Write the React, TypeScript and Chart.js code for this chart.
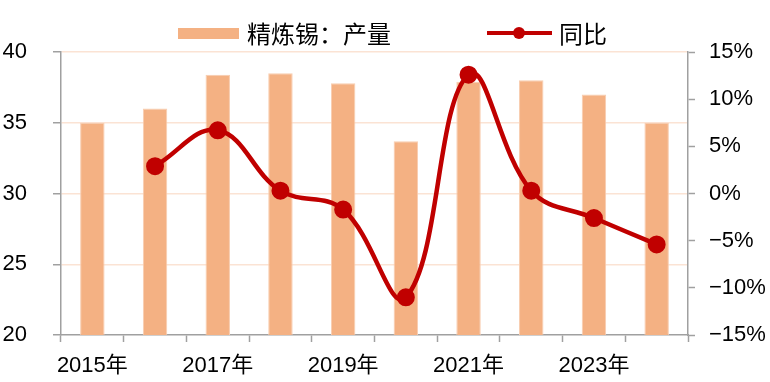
import React, { useEffect, useRef } from 'react';
import { Chart, registerables } from 'chart.js';

Chart.register(...registerables);

// ---- data ----
const years = ['2015年', '2016年', '2017年', '2018年', '2019年', '2020年', '2021年', '2022年', '2023年', '2024年'];
const labelledYears = ['2015年', '2017年', '2019年', '2021年', '2023年'];
const refinedTinOutput = [35.0, 36.0, 38.4, 38.5, 37.8, 33.7, 37.9, 38.0, 37.0, 35.0];
const yoyPercent = [null, 2.9, 6.7, 0.3, -1.7, -11.0, 12.6, 0.3, -2.6, -5.4];
const seriesNames = ['精炼锡：产量', '同比'];
const outputAxisRange = [20, 40];
const outputAxisStep = 5;
const yoyAxisRange = [-15, 15];
const yoyAxisStep = 5;

// ---- styles ----
const barColor = '#F4B183';
const lineColor = '#C00000';
const gridColor = '#FBE3D4';
const axisColor = '#A0A0A0';
const tickFont = { family: "'Liberation Sans', 'Noto Sans CJK SC', sans-serif", size: 22 };

export default function App() {
  const canvasRef = useRef<HTMLCanvasElement | null>(null);

  useEffect(() => {
    document.body.style.margin = '0';
    const canvas = canvasRef.current;
    if (!canvas) return;
    const chart = new Chart(canvas, {
      type: 'bar',
      data: {
        labels: years,
        datasets: [
          {
            type: 'line',
            label: seriesNames[1],
            data: yoyPercent as any,
            yAxisID: 'yRight',
            borderColor: lineColor,
            backgroundColor: lineColor,
            borderWidth: 4.5,
            pointRadius: 8,
            pointBorderWidth: 2,
            pointBackgroundColor: lineColor,
            pointBorderColor: lineColor,
            tension: 0.4,
            order: 0,
          },
          {
            type: 'bar',
            label: seriesNames[0],
            data: refinedTinOutput,
            yAxisID: 'yLeft',
            backgroundColor: barColor,
            borderColor: '#F8CDB0',
            borderWidth: 1,
            barPercentage: 0.39,
            categoryPercentage: 1,
            order: 1,
          },
        ],
      },
      options: {
        animation: false,
        responsive: true,
        maintainAspectRatio: false,
        layout: { padding: { top: 52, left: 0, right: 0, bottom: 0 } },
        plugins: { legend: { display: false }, tooltip: { enabled: false } },
        scales: {
          x: {
            offset: true,
            grid: {
              offset: true,
              drawOnChartArea: false,
              drawTicks: true,
              tickLength: 7,
              tickColor: axisColor,
              tickWidth: 1.5,
            },
            border: { color: axisColor, width: 1.5 },
            ticks: {
              autoSkip: false,
              maxRotation: 0,
              minRotation: 0,
              padding: 11,
              color: '#000',
              font: tickFont,
              callback: (_v: any, i: number) => (labelledYears.includes(years[i]) ? years[i] : ''),
            },
            afterFit: (scale: any) => {
              scale.height = 47;
            },
          },
          yLeft: {
            position: 'left',
            min: outputAxisRange[0],
            max: outputAxisRange[1],
            grid: {
              color: (ctx: any) => (ctx.tick && ctx.tick.value === outputAxisRange[0] ? 'rgba(0,0,0,0)' : gridColor),
              lineWidth: 1.5,
              drawTicks: true,
              tickLength: 8,
              tickColor: axisColor,
              tickWidth: 1.5,
            },
            border: { color: axisColor, width: 1.5 },
            ticks: {
              stepSize: outputAxisStep,
              padding: 26,
              color: '#000',
              font: tickFont,
            },
            afterFit: (scale: any) => {
              scale.width = 61;
            },
          },
          yRight: {
            position: 'right',
            min: yoyAxisRange[0],
            max: yoyAxisRange[1],
            grid: {
              drawOnChartArea: false,
              drawTicks: true,
              tickLength: 7,
              tickColor: axisColor,
              tickWidth: 1.5,
            },
            border: { color: axisColor, width: 1.5 },
            ticks: {
              stepSize: yoyAxisStep,
              padding: 14,
              color: '#000',
              font: tickFont,
              callback: (v: any) => (v < 0 ? '\u2212' + Math.abs(v) : String(v)) + '%',
            },
            afterFit: (scale: any) => {
              scale.width = 82;
            },
          },
        },
      },
    } as any);
    return () => chart.destroy();
  }, []);

  return (
    <div style={{ position: 'relative', width: 770, height: 382 }}>
      <canvas ref={canvasRef} />
      <div
        style={{
          position: 'absolute',
          left: 0,
          top: 21,
          width: 770,
          height: 24,
          paddingLeft: 15,
          boxSizing: 'border-box',
          display: 'flex',
          justifyContent: 'center',
          alignItems: 'center',
          fontFamily: "'Noto Sans CJK SC', sans-serif",
          fontSize: 24,
          lineHeight: '24px',
          color: '#000',
          whiteSpace: 'nowrap',
          pointerEvents: 'none',
        }}
      >
        <span style={{ display: 'inline-block', width: 61, height: 11, background: barColor, marginRight: 8 }} />
        <span>{seriesNames[0]}</span>
        <span style={{ display: 'inline-block', width: 96 }} />
        <span style={{ position: 'relative', display: 'inline-block', width: 65, height: 12, marginRight: 7 }}>
          <span style={{ position: 'absolute', left: 0, top: 4, width: 65, height: 4, background: lineColor }} />
          <span style={{ position: 'absolute', left: 26, top: 0, width: 12, height: 12, borderRadius: '50%', background: lineColor }} />
        </span>
        <span>{seriesNames[1]}</span>
      </div>
    </div>
  );
}
